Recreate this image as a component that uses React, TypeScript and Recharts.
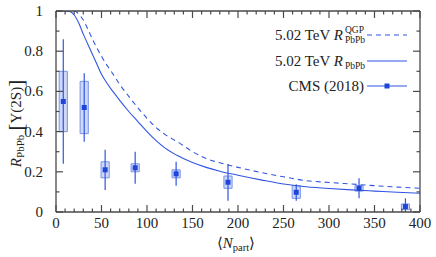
import { ComposedChart, Line, Scatter, XAxis, YAxis, ErrorBar, ReferenceArea, Legend } from "recharts";

// theory curves, sampled on a common Npart grid
const curveNpart = [0, 10, 15, 20, 25, 30, 35, 40, 45, 50, 55, 60, 65, 70, 80, 90, 100, 110, 120, 135, 150, 165, 180, 200, 225, 250, 275, 300, 325, 350, 375, 400];
const raaFull = [1, 1, 0.998, 0.98, 0.94, 0.885, 0.835, 0.785, 0.735, 0.685, 0.648, 0.615, 0.585, 0.555, 0.5, 0.45, 0.4, 0.355, 0.318, 0.277, 0.246, 0.222, 0.203, 0.183, 0.16, 0.139, 0.126, 0.117, 0.11, 0.104, 0.098, 0.093];
const raaQGP = [1, 1, 1, 1, 0.985, 0.955, 0.91, 0.86, 0.815, 0.775, 0.737, 0.705, 0.67, 0.635, 0.575, 0.518, 0.466, 0.42, 0.385, 0.345, 0.3, 0.266, 0.245, 0.222, 0.197, 0.175, 0.156, 0.147, 0.139, 0.131, 0.124, 0.118];

// CMS 2018 Upsilon(2S) points
const cmsNpart = [8, 31, 54, 87, 132, 189, 264, 333, 384];
const cmsRaa = [0.55, 0.52, 0.21, 0.22, 0.19, 0.148, 0.098, 0.118, 0.027];
const statLo = [0.24, 0.35, 0.11, 0.14, 0.13, 0.056, 0.056, 0.068, 0];
const statHi = [0.86, 0.69, 0.31, 0.3, 0.25, 0.239, 0.138, 0.168, 0.068];
const systLo = [0.4, 0.39, 0.17, 0.2, 0.17, 0.118, 0.068, 0.104, 0.012];
const systHi = [0.7, 0.65, 0.25, 0.24, 0.21, 0.179, 0.131, 0.131, 0.04];
const boxHalf = 4.5;

const xTicks = [0, 10, 20, 30, 40, 50, 60, 70, 80, 90, 100, 110, 120, 130, 140, 150, 160, 170, 180, 190, 200, 210, 220, 230, 240, 250, 260, 270, 280, 290, 300, 310, 320, 330, 340, 350, 360, 370, 380, 390, 400];
const yTicks = [0, 0.1, 0.2, 0.3, 0.4, 0.5, 0.6, 0.7, 0.8, 0.9, 1];
const yLabels: Record<string, string> = { "0": "0", "0.2": "0.2", "0.4": "0.4", "0.6": "0.6", "0.8": "0.8", "1": "1" };

const fullData = curveNpart.map((n, i) => ({ n, r: raaFull[i] }));
const qgpData = curveNpart.map((n, i) => ({ n, r: raaQGP[i] }));
const cmsData = cmsNpart.map((n, i) => ({ n, r: cmsRaa[i], stat: [cmsRaa[i] - statLo[i], statHi[i] - cmsRaa[i]] }));

const FONT = "Liberation Serif, Times New Roman, serif";
const AXIS = "#4a4a4a";
const LINE = "#3155e2";
const MARK = "#1e44d8";

const BottomTick = (p: any) => {
  const v = p.payload.value;
  const major = v % 50 === 0;
  return (
    <g>
      <line x1={p.x} x2={p.x} y1={p.y} y2={p.y - (major ? 7 : 3.5)} stroke={AXIS} strokeWidth={1.2} />
      {major && (
        <text x={p.x} y={p.y + 16} textAnchor="middle" fontFamily={FONT} fontSize={15} fill="#222">
          {v}
        </text>
      )}
    </g>
  );
};

const TopTick = (p: any) => {
  const major = p.payload.value % 50 === 0;
  return <line x1={p.x} x2={p.x} y1={p.y} y2={p.y + (major ? 7 : 3.5)} stroke={AXIS} strokeWidth={1.2} />;
};

const LeftTick = (p: any) => {
  const key = String(Math.round(p.payload.value * 10) / 10);
  const label = yLabels[key];
  return (
    <g>
      <line x1={p.x} x2={p.x + (label ? 7 : 3.5)} y1={p.y} y2={p.y} stroke={AXIS} strokeWidth={1.2} />
      {label && (
        <text x={p.x - 13} y={p.y + 5} textAnchor="end" fontFamily={FONT} fontSize={15} fill="#222">
          {label}
        </text>
      )}
    </g>
  );
};

const RightTick = (p: any) => {
  const key = String(Math.round(p.payload.value * 10) / 10);
  const len = yLabels[key] ? 7 : 3.5;
  return <line x1={p.x} x2={p.x - len} y1={p.y} y2={p.y} stroke={AXIS} strokeWidth={1.2} />;
};

const XLabel = ({ viewBox }: any) => {
  const cx = (viewBox?.x ?? 56) + (viewBox?.width ?? 364) / 2 - 2;
  const y = (viewBox?.y ?? 212) + 36;
  return (
    <text x={cx} y={y} textAnchor="middle" fontFamily={FONT} fontSize={15} fill="#222">
      ⟨<tspan fontStyle="italic">N</tspan>
      <tspan fontSize={10.5} dy={3}>part</tspan>
      <tspan dy={-3}>⟩</tspan>
    </text>
  );
};

const YLabel = ({ viewBox }: any) => {
  const cy = (viewBox?.y ?? 11) + (viewBox?.height ?? 201) / 2 + 12;
  const x = 21;
  return (
    <text x={x} y={cy} transform={`rotate(-90, ${x}, ${cy})`} textAnchor="middle" fontFamily={FONT} fontSize={15} fill="#222">
      <tspan fontStyle="italic">R</tspan>
      <tspan fontSize={11} dy={3}>PbPb</tspan>
      <tspan dy={-1} fontSize={21}>{"\u2009["}</tspan>
      <tspan dy={-2}>Υ(2S)</tspan>
      <tspan dy={2} fontSize={21}>]</tspan>
    </text>
  );
};

const Square = (p: any) => <rect x={p.cx - 2.5} y={p.cy - 2.5} width={5} height={5} fill={MARK} />;

const LegendBox = () => (
  <svg width={170} height={80} style={{ overflow: "visible" }}>
    <g fontFamily={FONT} fill="#222">
      <text x={93} y={20} textAnchor="end" fontSize={15}>
        5.02 TeV <tspan fontStyle="italic">R</tspan>
      </text>
      <text x={95} y={13} fontSize={9.5}>QGP</text>
      <text x={95} y={23} fontSize={9.5}>PbPb</text>
      <line x1={117} x2={157} y1={15} y2={15} stroke={LINE} strokeWidth={1.1} strokeDasharray="5 4" />

      <text x={93} y={46} textAnchor="end" fontSize={15}>
        5.02 TeV <tspan fontStyle="italic">R</tspan>
      </text>
      <text x={95} y={49} fontSize={9.5}>PbPb</text>
      <line x1={117} x2={157} y1={41} y2={41} stroke={LINE} strokeWidth={1.1} />

      <text x={114} y={71} textAnchor="end" fontSize={15}>CMS (2018)</text>
      <line x1={117} x2={157} y1={66} y2={66} stroke={LINE} strokeWidth={1.1} />
      <rect x={134.5} y={63.5} width={5} height={5} fill={MARK} />
    </g>
  </svg>
);

export default function App() {
  return (
    <div style={{ position: "absolute", left: 0, top: 0, width: 436, height: 257, background: "#fff" }}>
      <ComposedChart width={436} height={257} margin={{ top: 10, right: 15, bottom: 44, left: 55 }}>
        <XAxis
          xAxisId="b"
          type="number"
          dataKey="n"
          domain={[0, 400]}
          ticks={xTicks}
          interval={0}
          height={1}
          tickSize={0}
          tickMargin={0}
          tickLine={false}
          tick={BottomTick}
          axisLine={{ stroke: AXIS, strokeWidth: 1.3 }}
          allowDataOverflow
          label={{ content: XLabel }}
        />
        <XAxis
          xAxisId="t"
          orientation="top"
          type="number"
          dataKey="n"
          domain={[0, 400]}
          ticks={xTicks}
          interval={0}
          height={1}
          tickSize={0}
          tickMargin={0}
          tickLine={false}
          tick={TopTick}
          axisLine={{ stroke: AXIS, strokeWidth: 1.3 }}
          allowDataOverflow
        />
        <YAxis
          yAxisId="l"
          type="number"
          dataKey="r"
          domain={[0, 1]}
          ticks={yTicks}
          interval={0}
          width={1}
          tickSize={0}
          tickMargin={0}
          tickLine={false}
          tick={LeftTick}
          axisLine={{ stroke: AXIS, strokeWidth: 1.3 }}
          allowDataOverflow
          label={{ content: YLabel }}
        />
        <YAxis
          yAxisId="r"
          orientation="right"
          type="number"
          domain={[0, 1]}
          ticks={yTicks}
          interval={0}
          width={1}
          tickSize={0}
          tickMargin={0}
          tickLine={false}
          tick={RightTick}
          axisLine={{ stroke: AXIS, strokeWidth: 1.3 }}
          allowDataOverflow
        />

        {cmsNpart.map((n, i) => (
          <ReferenceArea
            key={n}
            xAxisId="b"
            yAxisId="l"
            x1={n - boxHalf}
            x2={n + boxHalf}
            y1={systLo[i]}
            y2={systHi[i]}
            fill="#c6d1f7"
            fillOpacity={0.85}
            stroke="#7a93ea"
            strokeWidth={1}
          />
        ))}

        <Line
          xAxisId="b"
          yAxisId="l"
          data={qgpData}
          dataKey="r"
          type="monotone"
          dot={false}
          stroke={LINE}
          strokeWidth={1.1}
          strokeDasharray="5 4"
          isAnimationActive={false}
        />
        <Line
          xAxisId="b"
          yAxisId="l"
          data={fullData}
          dataKey="r"
          type="monotone"
          dot={false}
          stroke={LINE}
          strokeWidth={1.1}
          isAnimationActive={false}
        />
        <Scatter xAxisId="b" yAxisId="l" data={cmsData} dataKey="r" shape={Square} isAnimationActive={false}>
          <ErrorBar dataKey="stat" direction="y" width={0} stroke={LINE} strokeWidth={1.2} />
        </Scatter>

        <Legend
          layout="horizontal"
          verticalAlign="middle"
          align="center"
          content={LegendBox}
          wrapperStyle={{ position: "absolute", left: 250, top: 20, width: 170, height: 80 }}
        />
      </ComposedChart>
    </div>
  );
}
